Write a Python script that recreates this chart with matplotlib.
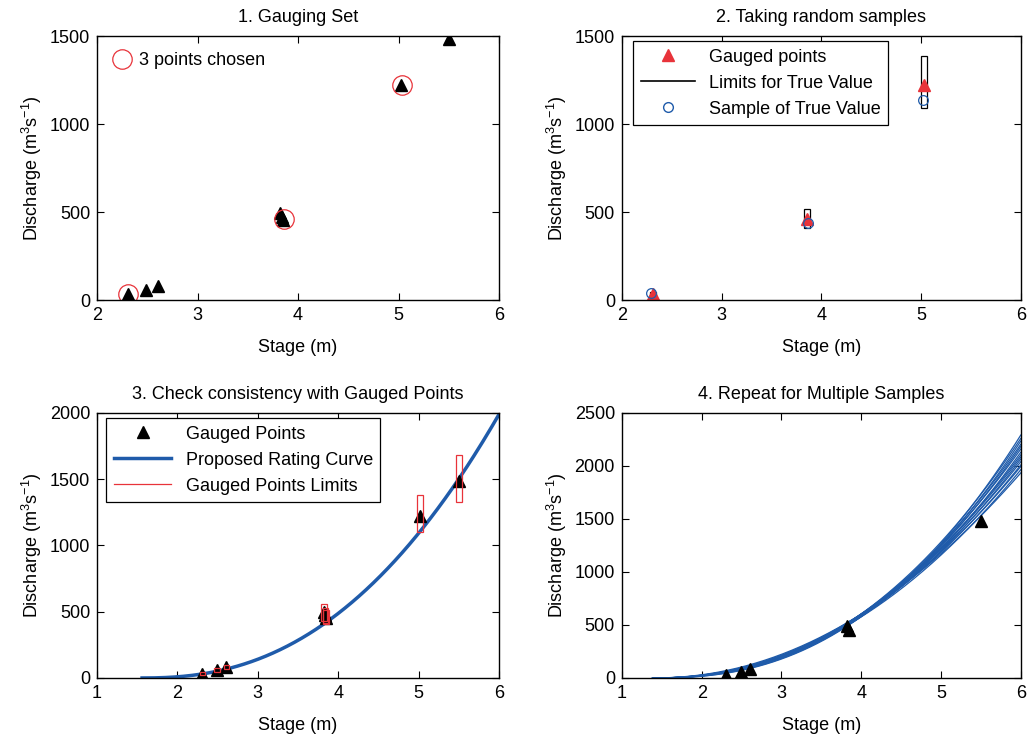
import matplotlib.pyplot as plt
import numpy as np
from matplotlib.patches import Rectangle
from matplotlib.lines import Line2D

plt.rcParams['font.family'] = ['Liberation Sans', 'DejaVu Sans']
plt.rcParams['font.size'] = 13
plt.rcParams['mathtext.fontset'] = 'custom'
plt.rcParams['mathtext.rm'] = 'Liberation Sans'
plt.rcParams['mathtext.it'] = 'Liberation Sans'

# Gauged points (stage m, discharge m3/s)
stage = [2.31, 2.49, 2.61, 3.82, 3.84, 3.85, 5.02, 5.50]
discharge = [32, 58, 82, 495, 472, 455, 1222, 1485]
# Limits around each gauged point
q_low = [22, 45, 66, 430, 415, 408, 1100, 1325]
q_high = [42, 72, 98, 555, 530, 515, 1380, 1685]

# Chosen points (panel 1 & 2)
chosen_stage = [2.31, 3.86, 5.03]
chosen_q = [32, 460, 1222]
chosen_low = [22, 410, 1090]
chosen_high = [44, 520, 1386]
sample_q = [40, 440, 1135]
sample_stage = [2.29, 3.87, 5.02]

# Points shown in panel 4
p4_stage = [2.31, 2.49, 2.61, 3.82, 3.85, 5.50]
p4_q = [32, 58, 82, 495, 455, 1485]

# Proposed rating curve Q = a (h - h0)^b
rc_a, rc_h0, rc_b = 59.9, 1.56, 2.35

# Multiple sampled curves: start stage, Q at 5 m, Q at 6 m
multi_h0 = [1.40, 1.39, 1.42, 1.38, 1.43, 1.40, 1.41, 1.44, 1.39, 1.42, 1.38, 1.41, 1.43, 1.40, 1.42]
multi_q5 = [1172, 1160, 1190, 1185, 1210, 1198, 1222, 1230, 1218, 1250, 1240, 1262, 1255, 1283, 1270]
multi_q6 = [1935, 1965, 1995, 2010, 2040, 2065, 2085, 2105, 2130, 2160, 2185, 2205, 2235, 2260, 2292]

red = '#E8333A'
blue = '#1F5BAA'
ylab = 'Discharge (m$^3$s$^{-1}$)'

fig = plt.figure(figsize=(10.28, 7.35), dpi=100)
ax1 = fig.add_axes([0.0944, 0.5918, 0.391, 0.3592])
ax2 = fig.add_axes([0.605, 0.5918, 0.388, 0.3592])
ax3 = fig.add_axes([0.0944, 0.0776, 0.391, 0.3605])
ax4 = fig.add_axes([0.605, 0.0776, 0.388, 0.3605])

for ax in (ax1, ax2, ax3, ax4):
    ax.tick_params(direction='in', top=True, right=True, length=5, labelsize=13, pad=5)
    ax.set_xlabel('Stage (m)', labelpad=11)
    ax.set_ylabel(ylab, labelpad=4)
    for s in ax.spines.values():
        s.set_linewidth(1.0)

# 1. Gauging set
ax1.plot(stage, discharge, '^', color='black', ms=8, ls='none')
ax1.plot(chosen_stage, chosen_q, 'o', mfc='none', mec=red, ms=14, mew=0.9, ls='none',
         label='3 points chosen')
ax1.set_xlim(2, 6)
ax1.set_ylim(0, 1500)
ax1.set_xticks([2, 3, 4, 5, 6])
ax1.set_yticks([0, 500, 1000, 1500])
ax1.set_title('1. Gauging Set', fontsize=13, pad=10)
ax1.legend(loc='upper left', frameon=False, handletextpad=0.3, handlelength=1.3, fontsize=13,
           bbox_to_anchor=(-0.008, 1.0))

# 2. Taking random samples
w = 0.06
for h, lo, hi in zip(chosen_stage, chosen_low, chosen_high):
    ax2.add_patch(Rectangle((h - w / 2, lo), w, hi - lo, fill=False, ec='black', lw=0.9))
ax2.plot(chosen_stage, chosen_q, '^', color=red, ms=9, ls='none')
ax2.plot(sample_stage, sample_q, 'o', mfc='none', mec=blue, ms=7, mew=0.9, ls='none')
ax2.set_xlim(2, 6)
ax2.set_ylim(0, 1500)
ax2.set_xticks([2, 3, 4, 5, 6])
ax2.set_yticks([0, 500, 1000, 1500])
ax2.set_title('2. Taking random samples', fontsize=13, pad=10)
h2 = [Line2D([], [], marker='^', color=red, ls='none', ms=9),
      Line2D([], [], color='black', lw=1.2),
      Line2D([], [], marker='o', mfc='none', mec=blue, ls='none', ms=7)]
leg = ax2.legend(h2, ['Gauged points', 'Limits for True Value', 'Sample of True Value'],
                 loc='upper left', fancybox=False, edgecolor='black', framealpha=1,
                 handlelength=3.0, borderaxespad=0.3, labelspacing=0.5,
                 bbox_to_anchor=(0.015, 1.0))
leg.get_frame().set_linewidth(0.9)

# 3. Check consistency
hh = np.linspace(rc_h0, 6, 200)
ax3.plot(hh, rc_a * (hh - rc_h0) ** rc_b, color=blue, lw=2.5, zorder=2)
ax3.plot(stage, discharge, '^', color='black', ms=8, ls='none', zorder=3)
w3 = 0.07
for h, lo, hi in zip(stage, q_low, q_high):
    ax3.add_patch(Rectangle((h - w3 / 2, lo), w3, hi - lo, fill=False, ec=red, lw=0.9, zorder=4))
ax3.set_xlim(1, 6)
ax3.set_ylim(0, 2000)
ax3.set_xticks([1, 2, 3, 4, 5, 6])
ax3.set_yticks([0, 500, 1000, 1500, 2000])
ax3.set_title('3. Check consistency with Gauged Points', fontsize=13, pad=10)
h3 = [Line2D([], [], marker='^', color='black', ls='none', ms=8),
      Line2D([], [], color=blue, lw=2.5),
      Line2D([], [], color=red, lw=0.9)]
leg = ax3.legend(h3, ['Gauged Points', 'Proposed Rating Curve', 'Gauged Points Limits'],
                 loc='upper left', fancybox=False, edgecolor='black', framealpha=1,
                 handlelength=3.2, borderaxespad=0.3, labelspacing=0.5,
                 bbox_to_anchor=(0.01, 1.0))
leg.get_frame().set_linewidth(0.9)

# 4. Repeat for multiple samples
for h0, q5, q6 in zip(multi_h0, multi_q5, multi_q6):
    b = np.log(q6 / q5) / np.log((6 - h0) / (5 - h0))
    a = q6 / (6 - h0) ** b
    x = np.linspace(h0, 6, 200)
    ax4.plot(x, a * (x - h0) ** b, color=blue, lw=0.9)
ax4.plot(p4_stage, p4_q, '^', color='black', ms=8, ls='none')
ax4.set_xlim(1, 6)
ax4.set_ylim(0, 2500)
ax4.set_xticks([1, 2, 3, 4, 5, 6])
ax4.set_yticks([0, 500, 1000, 1500, 2000, 2500])
ax4.set_title('4. Repeat for Multiple Samples', fontsize=13, pad=10)

fig.savefig('out.png', dpi=100)
